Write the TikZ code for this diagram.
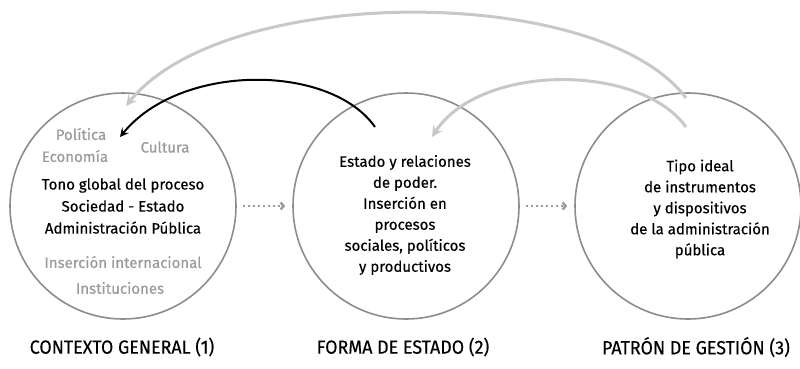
\documentclass[tikz,border=0pt]{standalone}
\usepackage{fontspec}
\setmainfont[FakeBold=0.4]{Fira Sans}
\newfontfamily\condfont[FakeStretch=0.94, FakeBold=0.3]{Fira Sans}
\usetikzlibrary{arrows.meta}
\definecolor{ringgray}{HTML}{8C8C8C}
\definecolor{arcgray}{HTML}{C8C8C8}
\definecolor{softgray}{HTML}{9A9A9A}

\begin{document}
\begin{tikzpicture}[x=1pt, y=-1pt,
  stage/.style={draw=ringgray, line width=1.6pt, circle, minimum size=226pt, inner sep=0pt},
  core/.style={align=center, font=\fontsize{15}{22}\selectfont, text=black},
  aside/.style={font=\fontsize{15}{17}\selectfont, text=softgray},
  caption/.style={font=\condfont\fontsize{19}{21}\selectfont},
  backarc/.style={line width=3pt, draw=arcgray, -{Stealth[length=11pt, width=11pt, inset=4pt]}},
  mainarc/.style={line width=2pt, draw=black, -{Stealth[length=9pt, width=9pt, inset=3.5pt]}},
  flow/.style={draw=softgray, line width=2.4pt, dash pattern=on 2.5pt off 2.5pt, -{Straight Barb[length=3pt, width=7pt]}, shorten <=6pt, shorten >=7pt}]
  \useasboundingbox (0,0) rectangle (800,368);

  % the three circles
  \node [stage] (contexto) at (123,206) {};
  \node [stage] (estado) at (406,206) {};
  \node [stage] (gestion) at (688,206) {};

  % circle 1
  \node [aside] (politica) at (81,134) {Política};
  \node [aside] (economia) at (75,156) {Economía};
  \node [aside] (cultura) at (165,147) {Cultura};
  \node [core] (tono) at (123,206) {Tono global del proceso\\Sociedad - Estado\\Administración Pública};
  \node [aside] (insercion) at (123,262) {Inserción internacional};
  \node [aside] (instituciones) at (120,288) {Instituciones};

  % circle 2
  \node [core, font=\fontsize{15}{21}\selectfont] (relaciones) at (405,215) {Estado y relaciones\\de poder.\\Inserción en\\procesos\\sociales, políticos\\y productivos};

  % circle 3
  \node [core, font=\fontsize{15}{21}\selectfont] (tipo) at (700,209) {Tipo ideal\\de instrumentos\\y dispositivos\\de la administración\\pública};

  % captions
  \node [caption] (cap1) at (122,347) {CONTEXTO GENERAL (1)};
  \node [caption] (cap2) at (403,347) {FORMA DE ESTADO (2)};
  \node [caption] (cap3) at (696,347) {PATRÓN DE GESTIÓN (3)};

  % arc ends
  \coordinate (g1) at (686,98);
  \coordinate (g2) at (126,106);
  \coordinate (b1) at (375,127);
  \coordinate (b2) at (120,137);
  \coordinate (s1) at (686,127);
  \coordinate (s2) at (432,137);

  \draw [backarc] (g1) .. controls (600,-17) and (225,-17) .. (g2);
  \draw [backarc] (s1) .. controls (640,63) and (480,63) .. (s2);
  \draw [mainarc] (b1) .. controls (330,63) and (180,63) .. (b2);

  \draw [flow] (contexto.east) -- (estado.west);
  \draw [flow] (estado.east) -- (gestion.west);
\end{tikzpicture}
\end{document}
